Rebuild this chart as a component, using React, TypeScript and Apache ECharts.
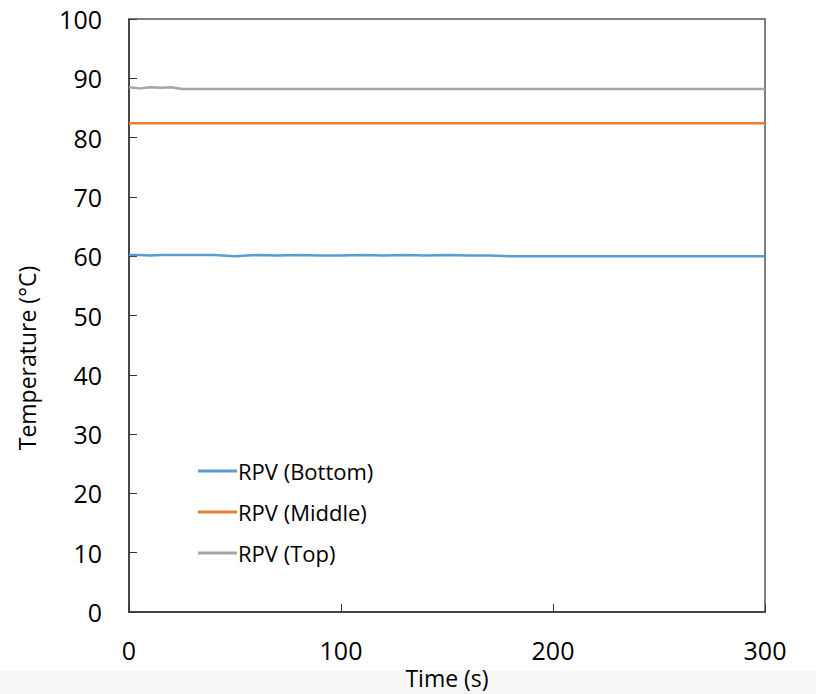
import React, { useEffect, useRef } from "react";
import * as echarts from "echarts";

const times = [0, 5, 10, 15, 20, 25, 30, 40, 50, 60, 70, 80, 90, 100, 110, 120, 130, 140, 150, 160, 170, 180, 200, 220, 240, 260, 280, 300];
const bottom = [60.2, 60.2, 60.1, 60.2, 60.2, 60.2, 60.2, 60.2, 60.0, 60.2, 60.1, 60.2, 60.1, 60.1, 60.2, 60.1, 60.2, 60.1, 60.2, 60.1, 60.1, 60.0, 60.0, 60.0, 60.0, 60.0, 60.0, 60.0];
const middle = [82.4, 82.4, 82.4, 82.4, 82.4, 82.4, 82.4, 82.4, 82.4, 82.4, 82.4, 82.4, 82.4, 82.4, 82.4, 82.4, 82.4, 82.4, 82.4, 82.4, 82.4, 82.4, 82.4, 82.4, 82.4, 82.4, 82.4, 82.4];
const top = [88.5, 88.3, 88.5, 88.4, 88.5, 88.2, 88.2, 88.2, 88.2, 88.2, 88.2, 88.2, 88.2, 88.2, 88.2, 88.2, 88.2, 88.2, 88.2, 88.2, 88.2, 88.2, 88.2, 88.2, 88.2, 88.2, 88.2, 88.2];
const seriesNames = ["RPV (Bottom)", "RPV (Middle)", "RPV (Top)"];
const colors = ["#5b9bd5", "#ed7d31", "#a5a5a5"];
const xTitle = "Time (s)";
const yTitle = "Temperature (°C)";

const FONT = "'Open Sans', 'Noto Sans', sans-serif";

export default function App() {
  const ref = useRef<HTMLDivElement>(null);
  useEffect(() => {
    if (!ref.current) return;
    const chart = echarts.init(ref.current, null, { renderer: "svg" });
    const mk = (vals: number[]) => times.map((t, i) => [t, vals[i]]);
    chart.setOption({
      animation: false,
      backgroundColor: "#ffffff",
      textStyle: { fontFamily: FONT, color: "#000" },
      grid: {
        left: 129,
        right: 51,
        top: 19,
        bottom: 82,
        outerBoundsMode: "none",
        containLabel: false,
        show: true,
        borderColor: "#555",
        borderWidth: 1.5,
      },
      graphic: [
        {
          type: "rect",
          z: -10,
          silent: true,
          shape: { x: 0, y: 671, width: 816, height: 23 },
          style: { fill: "#f8f8f8" },
        },
        {
          type: "text",
          x: 27,
          y: 358,
          rotation: Math.PI / 2,
          style: {
            text: yTitle,
            fontFamily: FONT,
            fontSize: 23,
            fill: "#000",
            textAlign: "center",
            textVerticalAlign: "middle",
          },
        },
      ],
      legend: {
        orient: "vertical",
        left: 193,
        top: 455,
        itemGap: 19,
        itemWidth: 39,
        itemHeight: 3,
        icon: "rect",
        data: seriesNames,
        textStyle: { fontFamily: FONT, fontSize: 22, color: "#000", padding: [0, 0, 0, -4] },
      },
      xAxis: {
        type: "value",
        min: 0,
        max: 300,
        interval: 100,
        name: xTitle,
        nameLocation: "middle",
        nameGap: 52,
        nameTextStyle: { fontFamily: FONT, fontSize: 23, color: "#000" },
        axisLine: { lineStyle: { color: "#333", width: 1.5 } },
        axisTick: { inside: true, length: 8, lineStyle: { color: "#333" } },
        axisLabel: { fontFamily: FONT, fontSize: 25, color: "#000", margin: 25 },
        splitLine: { show: false },
      },
      yAxis: {
        type: "value",
        min: 0,
        max: 100,
        interval: 10,
        axisLine: { lineStyle: { color: "#333", width: 1.5 } },
        axisTick: { inside: true, length: 8, lineStyle: { color: "#333" } },
        axisLabel: { fontFamily: FONT, fontSize: 25, color: "#000", margin: 27 },
        splitLine: { show: false },
      },
      series: [
        { name: seriesNames[0], type: "line", data: mk(bottom), showSymbol: false, color: colors[0], lineStyle: { width: 2.5, color: colors[0] } },
        { name: seriesNames[1], type: "line", data: mk(middle), showSymbol: false, color: colors[1], lineStyle: { width: 2.5, color: colors[1] } },
        { name: seriesNames[2], type: "line", data: mk(top), showSymbol: false, color: colors[2], lineStyle: { width: 2.5, color: colors[2] } },
      ],
    });
    return () => chart.dispose();
  }, []);
  return <div ref={ref} style={{ position: "fixed", left: 0, top: 0, width: 816, height: 694 }} />;
}
